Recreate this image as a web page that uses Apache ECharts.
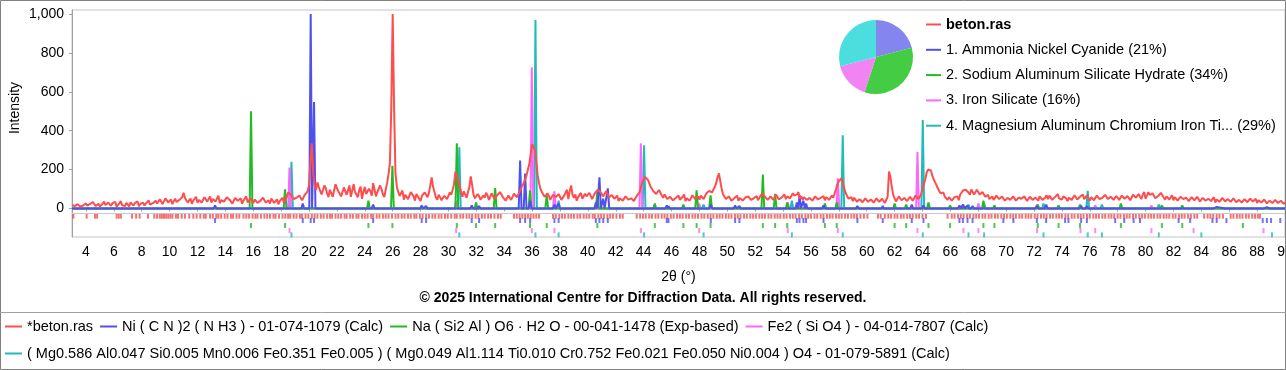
<!DOCTYPE html>
<html><head><meta charset="utf-8">
<script src="https://cdn.jsdelivr.net/npm/echarts@6/dist/echarts.min.js"></script>
<style>html,body{margin:0;padding:0;background:#fff}#c{width:1286px;height:370px}</style>
</head><body><div id="c"></div>
<script>
// ---------------- data ----------------
const obsStart = 3.0, obsStep = 0.1;   // 2θ sampling of the measured pattern (one row per degree)
const obsIntensity = [
 18,26,12,8,22,30,9,17,15,6,
 25,14,11,23,19,33,28,12,14,24,
 10,18,24,35,17,9,30,21,13,27,
 21,34,9,15,26,38,16,22,12,29,
 20,11,31,24,14,27,18,36,11,23,
 22,30,15,26,33,41,19,12,27,35,
 40,25,18,47,35,22,26,52,45,31,
 30,46,22,38,50,33,28,44,38,57,
 80,55,42,30,33,51,24,40,36,60,
 29,44,48,31,25,58,52,35,37,62,
 30,48,55,36,38,66,26,42,47,35,
 33,57,60,45,41,25,28,54,50,39,
 36,52,24,40,45,62,31,22,52,44,
 27,46,40,28,22,39,35,55,48,30,
 30,42,25,51,43,28,33,47,21,38,
 35,55,28,44,60,82,78,70,62,48,
 38,55,45,66,58,42,52,70,60,88,
 120,240,335,180,120,95,134,110,90,72,
 70,118,105,76,58,96,92,60,66,124,
 115,88,80,62,55,108,98,70,72,118,
 60,92,125,84,78,58,95,112,50,86,
 110,74,68,102,88,66,130,96,62,84,
 75,118,100,72,58,96,130,175,230,520,
 1000,520,180,110,85,64,60,92,45,70,
 70,48,52,84,88,62,40,74,66,50,
 38,64,55,82,72,58,80,120,160,110,
 85,56,45,70,58,42,36,65,62,48,
 50,82,70,96,125,190,200,150,118,84,
 60,88,72,55,58,110,165,120,70,52,
 48,74,62,45,40,66,55,80,68,44,
 52,78,70,50,45,68,62,84,90,58,
 55,40,38,66,60,44,48,76,72,58,
 70,86,100,118,130,150,170,200,230,280,
 330,325,300,240,170,130,100,84,72,60,
 55,78,65,44,48,70,80,58,52,74,
 60,44,42,66,70,96,48,90,118,70,
 55,72,40,58,62,80,50,44,75,62,
 58,80,66,48,52,78,70,96,90,84,
 80,62,60,88,75,55,45,70,68,50,
 50,66,38,52,55,40,42,62,60,45,
 35,52,50,38,40,64,58,82,110,132,
 150,162,170,148,130,112,100,88,80,74,
 70,95,90,68,55,72,62,48,40,60,
 58,42,35,54,52,66,45,38,60,72,
 38,52,55,40,42,68,65,48,50,62,
 45,66,60,48,52,78,75,90,95,82,
 80,110,130,160,180,140,100,72,60,48,
 42,62,55,40,36,52,48,66,40,54,
 52,40,35,56,46,62,58,44,38,52,
 50,64,42,55,60,78,72,60,55,44,
 40,62,58,44,45,70,62,46,38,56,
 55,72,48,62,70,52,52,78,66,58,
 72,84,50,62,45,58,60,44,38,54,
 52,40,44,62,58,46,36,54,50,64,
 42,58,60,44,48,66,55,78,100,125,
 140,150,155,130,100,78,62,50,45,58,
 38,55,52,34,30,48,46,32,35,52,
 50,34,28,46,42,30,36,52,48,34,
 32,50,44,28,30,60,190,160,110,70,
 52,36,40,62,58,42,35,54,50,38,
 38,60,55,40,42,66,60,48,50,72,
 100,125,150,185,200,205,195,170,150,135,
 120,104,90,78,70,82,60,52,45,58,
 55,40,38,58,50,62,42,70,75,92,
 88,96,103,82,70,98,95,72,80,96,
 90,72,65,84,78,60,55,70,48,58,
 62,44,40,66,58,48,45,62,52,40,
 36,54,60,44,42,62,55,40,38,56,
 65,50,45,62,50,38,40,60,58,44,
 35,56,52,40,62,70,44,50,55,68,
 48,66,60,44,40,58,66,74,52,46,
 45,62,70,52,38,55,58,44,50,68,
 62,46,42,60,55,72,48,54,68,52,
 40,58,56,42,45,66,60,48,38,55,
 52,70,65,48,42,60,58,44,46,64,
 55,44,40,66,62,50,48,64,58,42,
 45,70,68,56,52,74,60,48,72,84,
 50,66,84,70,62,78,70,52,48,64,
 58,80,75,56,45,62,60,46,50,68,
 42,58,55,40,38,60,62,48,45,56,
 50,38,36,58,55,42,42,60,48,36,
 38,54,58,40,35,50,52,38,44,58,
 30,46,48,34,38,54,55,36,32,48,
 45,34,36,52,50,32,28,44,42,30,
 34,48,46,32,30,50,52,36,38,50,
 28,42,44,30,32,46,40,26,25,40,
 38,28,30,44,42,28,26,40,35,24,
 30
];
// observed peak positions (2θ), red stick row
const obsPeakTicks = [
 3.1,4.05,4.65,4.8,6.2,6.35,6.5,7.3,7.6,7.85,8.45,8.9,
 9.1,9.3,9.45,9.6,9.75,9.9,10.05,10.2,10.45,10.6,10.87,11.1,11.41,11.7,11.94,
 12.2,12.45,12.6,12.9,13.1,13.35,13.5,13.7,13.95,14.15,14.4,14.55,14.8,15.0,
 15.3,15.5,15.7,15.95,16.15,16.3,16.55,16.8,17.0,17.2,17.45,17.6,17.85,
 18.1,18.3,18.5,18.65,18.9,19.1,19.35,19.5,19.75,19.95,20.2,20.4,20.6,20.85,
 21.05,21.3,21.5,21.65,21.9,22.1,22.3,22.55,22.7,22.95,23.15,23.4,23.55,23.8,
 24.0,24.2,24.45,24.6,24.85,25.05,25.3,25.5,25.7,25.95,26.2,26.4,26.65,26.85,
 27.1,27.3,27.55,27.7,27.95,28.15,28.4,28.6,28.85,29.05,29.3,29.5,29.75,29.95,
 30.2,30.45,30.6,30.85,31.05,31.3,31.5,31.7,31.95,32.15,32.4,32.6,32.85,
 33.05,33.3,33.55,33.75,34.7,34.9,35.1,35.3,35.5,35.7,35.9,36.1,36.3,
 36.5,37.5,37.7,37.95,38.15,38.35,38.6,38.8,39.0,39.25,39.45,39.7,39.9,
 40.1,40.35,40.5,40.75,40.95,41.15,41.4,41.6,41.8,42.05,42.3,
 42.5,43.5,43.75,43.95,44.15,44.4,44.6,44.85,45.05,
 45.3,45.5,45.7,45.95,46.15,46.4,46.6,46.8,47.05,47.25,47.5,47.7,47.9,
 48.15,48.35,48.6,48.8,49.0,49.25,49.45,49.65,49.9,50.1,50.3,50.55,50.75,50.95,
 51.2,51.4,51.65,51.85,52.05,52.3,52.5,52.7,52.95,53.15,53.4,53.6,53.8,
 54.05,54.25,54.5,54.7,54.9,55.15,55.35,55.6,55.8,56.0,56.25,56.45,56.7,56.9,
 57.15,57.35,57.55,57.8,58.0,58.2,58.45,58.65,58.9,59.1,59.3,59.55,59.8,
 60.05,60.8,61.0,61.3,61.55,61.75,62.0,62.2,62.45,62.65,62.9,
 63.1,63.3,63.55,63.75,64.0,64.25,65.8,
 66.1,66.3,66.55,66.75,66.95,67.2,67.4,67.65,67.85,68.05,68.3,68.5,68.75,68.95,
 69.2,69.4,69.65,69.85,70.05,70.3,70.5,70.7,70.95,71.15,71.4,71.6,71.8,
 72.05,72.25,72.5,72.7,72.9,73.15,73.35,73.6,73.8,74.0,74.25,74.45,74.7,74.9,
 75.15,75.35,75.55,75.8,76.0,76.25,76.45,76.65,76.9,77.1,77.35,77.55,77.75,
 78.0,78.2,78.45,78.65,78.85,79.1,79.3,79.55,79.75,79.95,80.2,80.4,80.6,80.85,
 81.05,81.3,81.5,81.7,81.95,82.15,82.4,82.6,82.8,83.05,83.25,83.5,83.7,
 84.2,84.45,84.65,84.85,85.1,85.3,85.55,86.1,86.3,86.55,86.75,86.95,
 87.2,87.4,87.65,87.85,88.05,88.2
];
// reference phases: [2θ, calculated intensity]
const phaseAmmoniaNickelCyanide = [
 [13.26,15],[19.55,25],[20.12,1000],[20.36,548],[24.6,20],[28.08,15],[28.4,12],[31.67,15],[32.2,12],
 [35.14,247],[35.5,180],[35.86,40],[37.6,20],[37.9,25],[40.57,30],[40.83,160],[41.1,50],[41.43,103],
 [45.66,15],[45.78,12],[48.82,20],[50.56,15],[50.87,12],[54.99,30],[55.18,70],[55.46,40],[55.65,25],
 [56.9,15],[59.33,12],[61.15,12],[63.23,20],[64.07,15],[66.65,15],[66.9,20],[67.23,15],[67.59,12],
 [69.8,10],[70.52,10],[72.2,12],[72.87,20],[74.23,10],[74.47,10],[75.38,12],[75.79,12],[77.82,10],
 [78.47,10],[79.14,10],[79.6,8],[82.37,8],[83.2,8],[84.8,8],[85.1,8],[85.8,8],[88.4,6],[88.7,6],[89.0,6],[89.66,6]
];
const phaseSodiumAluminumSilicateHydrate = [
 [15.84,500],[18.28,98],[24.26,40],[25.98,220],[30.6,335],[31.98,30],[33.35,105],[35.85,93],[37.05,67],
 [40.68,88],[44.8,25],[46.85,20],[47.8,93],[48.8,67],[52.55,175],[53.43,75],[54.3,30],[57.0,25],[57.85,30],
 [62.0,25],[62.83,20],[64.43,30],[65.98,15],[68.37,40],[69.16,15],[72.27,20],[73.76,15],[75.3,20],
 [78.23,25],[81.17,15],[82.63,15],[86.98,10]
];
const phaseIronSilicate = [
 [18.6,210],[30.55,40],[35.98,727],[37.6,88],[43.8,335],[47.98,25],[54.34,30],[57.93,155],[63.64,290],
 [66.94,20],[68.01,25],[72.22,20],[75.33,15],[76.39,15],[80.42,15],[83.44,10],[88.46,10]
];
const phaseMgAlCrFeTi = [
 [18.74,240],[30.78,315],[36.24,970],[37.9,40],[44.03,325],[48.3,20],[54.63,40],[58.28,376],[64.02,455],
 [67.3,20],[68.42,25],[72.68,25],[75.85,90],[76.87,20],[80.95,20],[84.0,10],[89.07,10]
];
const phasePercent = [21, 34, 16, 29];
const seriesNames = [
 '*beton.ras',
 'Ni ( C N )2 ( N H3 ) - 01-074-1079 (Calc)',
 'Na ( Si2 Al ) O6 · H2 O - 00-041-1478 (Exp-based)',
 'Fe2 ( Si O4 ) - 04-014-7807 (Calc)',
 '( Mg0.586 Al0.047 Si0.005 Mn0.006 Fe0.351 Fe0.005 ) ( Mg0.049 Al1.114 Ti0.010 Cr0.752 Fe0.021 Fe0.050 Ni0.004 ) O4 - 01-079-5891 (Calc)'
];
const phaseLabels = [
 'beton.ras',
 '1. Ammonia Nickel Cyanide (21%)',
 '2. Sodium Aluminum Silicate Hydrate (34%)',
 '3. Iron Silicate (16%)',
 '4. Magnesium Aluminum Chromium Iron Ti... (29%)'
];
const pieNames = ['Ammonia Nickel Cyanide','Sodium Aluminum Silicate Hydrate','Iron Silicate','Magnesium Aluminum Chromium Iron Ti...'];
const xTicks = [4,6,8,10,12,14,16,18,20,22,24,26,28,30,32,34,36,38,40,42,44,46,48,50,52,54,56,58,60,62,64,66,68,70,72,74,76,78,80,82,84,86,88,90];
const yTicks = [0,200,400,600,800,1000];

// ---------------- styles ----------------
const FONT = '"Liberation Sans", Arial, sans-serif';
const colors = ['#ff4d4d', '#5050f0', '#22bb22', '#ff66ff', '#22bbbb'];
const pieColors = ['#8585f0', '#44cc44', '#f283f2', '#4cdede'];
const rowLevel = [-40, -62, -88, -114, -136];
const HW = 0.1;

const obsData = obsIntensity.map((v, i) => [+(obsStart + i * obsStep).toFixed(2), v]);
function profile(peaks) {
  const d = [[3, 0]];
  peaks.slice().sort((a, b) => a[0] - b[0]).forEach(([p, h]) => { d.push([p - HW, 0], [p, h], [p + HW, 0]); });
  d.push([90, 0]);
  return d;
}
const phases = [phaseAmmoniaNickelCyanide, phaseSodiumAluminumSilicateHydrate, phaseIronSilicate, phaseMgAlCrFeTi];

const series = [];
[3, 2, 1, 0].forEach(k => {
  series.push({
    type: 'line', name: seriesNames[k + 1], data: profile(phases[k]),
    showSymbol: false, symbol: 'none', lineStyle: { color: colors[k + 1], width: 2 },
    itemStyle: { color: colors[k + 1] }, silent: true, z: 2
  });
});
series.push({
  type: 'line', name: seriesNames[0], data: obsData, showSymbol: false, symbol: 'none', sampling: null,
  lineStyle: { color: colors[0], width: 2 }, itemStyle: { color: colors[0] }, silent: true, z: 3
});
series.push({
  type: 'scatter', name: 'obs-ticks', data: obsPeakTicks.map(p => [p, rowLevel[0]]),
  symbol: 'rect', symbolSize: [2, 5], itemStyle: { color: '#f05050' }, silent: true, z: 4,
  markLine: { silent: true, symbol: 'none', label: { show: false }, animation: false,
    lineStyle: { color: '#c8c8c8', type: 'solid', width: 1 }, data: [{ yAxis: -24 }] }
});
phases.forEach((ph, k) => {
  series.push({
    type: 'scatter', name: 'ticks-' + k, data: ph.map(q => [q[0], rowLevel[k + 1]]),
    symbol: 'rect', symbolSize: [2, 5], itemStyle: { color: colors[k + 1] }, silent: true, z: 4
  });
});
series.push({
  type: 'pie', center: [876, 57], radius: 37, startAngle: 90, silent: true, label: { show: false },
  labelLine: { show: false }, z: 5,
  data: phasePercent.map((v, i) => ({ name: pieNames[i], value: v, itemStyle: { color: pieColors[i] } }))
});

const legendText = { fontSize: 14.5, color: '#000', fontFamily: FONT };
const option = {
  animation: false,
  backgroundColor: '#fff',
  grid: { left: 72, right: 1, top: 10, bottom: 133, show: true, borderColor: '#c4c4c4', borderWidth: 1,
    containLabel: false, outerBoundsMode: 'none' },
  xAxis: {
    type: 'value', min: 3, max: 90, name: '2θ (°)', nameLocation: 'middle', nameGap: 33,
    nameTextStyle: { fontSize: 14, color: '#000', fontFamily: FONT },
    axisLine: { show: true, lineStyle: { color: '#a0a0a0' } },
    axisTick: { show: true, customValues: xTicks, length: 3, lineStyle: { color: '#a0a0a0' } },
    axisLabel: { customValues: xTicks, fontSize: 14, color: '#000', margin: 8, fontFamily: FONT, hideOverlap: false },
    splitLine: { show: false }
  },
  yAxis: {
    type: 'value', min: -147, max: 1021,
    axisLine: { show: true, lineStyle: { color: '#a0a0a0' } },
    axisTick: { show: true, customValues: yTicks, length: 3, lineStyle: { color: '#a0a0a0' } },
    axisLabel: { customValues: yTicks, fontSize: 14, color: '#000', margin: 8, fontFamily: FONT },
    splitLine: { show: false }
  },
  legend: [
    { orient: 'vertical', left: 926, top: 17, padding: 0, itemGap: 10.3, itemWidth: 15, itemHeight: 2,
      icon: 'rect', data: seriesNames, selectedMode: false,
      formatter: n => { const i = seriesNames.indexOf(n); return i === 0 ? '{b|' + phaseLabels[0] + '}' : phaseLabels[i]; },
      textStyle: Object.assign({}, legendText, { rich: { b: { fontSize: 14.5, fontWeight: 'bold', color: '#000', fontFamily: FONT } } }) },
    { orient: 'horizontal', left: 5, top: 319, padding: 0, itemGap: 7, itemWidth: 17, itemHeight: 2,
      icon: 'rect', data: seriesNames.slice(0, 4), selectedMode: false, textStyle: legendText },
    { orient: 'horizontal', left: 5, top: 346, padding: 0, itemGap: 7, itemWidth: 17, itemHeight: 2,
      icon: 'rect', data: seriesNames.slice(4), selectedMode: false, textStyle: legendText }
  ],
  graphic: [
    { type: 'rect', silent: true, z: 100, shape: { x: 0.5, y: 0.5, width: 1285, height: 369 },
      style: { fill: 'none', stroke: '#808080', lineWidth: 1 } },
    { type: 'line', silent: true, z: 100, shape: { x1: 0, y1: 312.5, x2: 1286, y2: 312.5 },
      style: { stroke: '#a0a0a0', lineWidth: 1 } },
    { type: 'text', silent: true, x: 15, y: 108, rotation: Math.PI / 2,
      style: { text: 'Intensity', fontSize: 14, fill: '#000', align: 'center', verticalAlign: 'middle', fontFamily: FONT } },
    { type: 'text', silent: true, x: 643, y: 298,
      style: { text: '© 2025 International Centre for Diffraction Data. All rights reserved.', fontSize: 14,
        fontWeight: 'bold', fill: '#000', align: 'center', verticalAlign: 'middle', fontFamily: FONT } }
  ],
  series: series
};
const chart = echarts.init(document.getElementById('c'), null, { renderer: 'canvas' });
chart.setOption(option);
</script>
</body></html>
